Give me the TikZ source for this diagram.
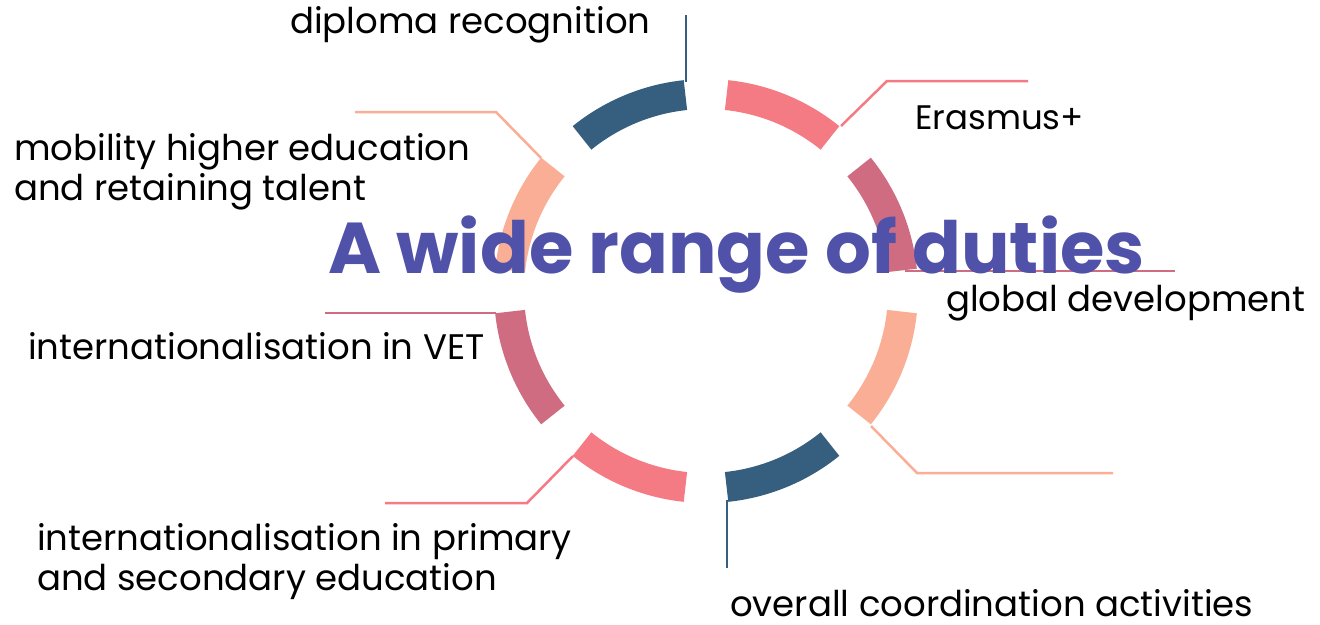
\documentclass[tikz,border=0pt]{standalone}
\usepackage{fontspec}
\setmainfont{Poppins}
\definecolor{ringblue}{HTML}{365E7E}
\definecolor{ringpink}{HTML}{F47A84}
\definecolor{ringmauve}{HTML}{CF6C81}
\definecolor{ringsalmon}{HTML}{F9AE95}
\definecolor{titleblue}{HTML}{4F52A8}
\tikzset{
  seg/.style={line width=30pt},
  lead/.style={line width=2.5pt, line join=miter},
  lbl/.style={anchor=base west, inner sep=0pt, align=left, font=\fontsize{35.5}{40}\selectfont},
}
\begin{document}
\begin{tikzpicture}[x=1pt, y=-1pt, line cap=butt]
	\useasboundingbox (0,0) rectangle (1320,624);
	%%%%%%%%%%%%%%%%%%%%%%%%%%%%%%%%%
	\coordinate (O) at (706,291);
	\coordinate (dipS) at (686,82);   \coordinate (dipE) at (686,15);
	\coordinate (eraS) at (841,126);  \coordinate (eraK) at (887,81);  \coordinate (eraE) at (1028,81);
	\coordinate (gloS) at (905,271);  \coordinate (gloE) at (1175,271);
	\coordinate (rsaS) at (871,426);  \coordinate (rsaK) at (917,473); \coordinate (rsaE) at (1113,473);
	\coordinate (ovrS) at (727,500);  \coordinate (ovrE) at (727,568);
	\coordinate (priS) at (573,456);  \coordinate (priK) at (527,503); \coordinate (priE) at (385,503);
	\coordinate (vetS) at (496,313);  \coordinate (vetE) at (325,313);
	\coordinate (mobS) at (541,158);  \coordinate (mobK) at (496,112); \coordinate (mobE) at (355,112);
	%%%%%%%%%%%%%%%%%%%%%%%%%%%%%%%%%
	\begin{scope}[shift={(O)}]
		\foreach \ang/\col in {112.5/ringblue, 67.5/ringpink, 22.5/ringmauve, -22.5/ringsalmon,
			-67.5/ringblue, -112.5/ringpink, -157.5/ringmauve, 157.5/ringsalmon}
			\draw[seg, \col] ({\ang-16.5}:197pt) arc[start angle=\ang-16.5, end angle=\ang+16.5, radius=197pt];
	\end{scope}
	\draw[lead, ringblue] (dipS) -- (dipE);
	\draw[lead, ringpink] (eraS) -- (eraK) -- (eraE);
	\draw[lead, ringmauve] (gloS) -- (gloE);
	\draw[lead, ringsalmon] (rsaS) -- (rsaK) -- (rsaE);
	\draw[lead, ringblue] (ovrS) -- (ovrE);
	\draw[lead, ringpink] (priS) -- (priK) -- (priE);
	\draw[lead, ringmauve] (vetS) -- (vetE);
	\draw[lead, ringsalmon] (mobS) -- (mobK) -- (mobE);
	%%%%%%%%%%%%%%%%%%%%%%%%%%%%%%%%%
	\node[anchor=base west, inner sep=0pt, text=titleblue, font=\fontsize{72}{76}\selectfont\bfseries] (title) at (328,273) {A wide range of duties};
	%%%%%%%%%%%%%%%%%%%%%%%%%%%%%%%%%
	\node[lbl] (dip) at (290,33) {diploma recognition};
	\node[lbl, font=\fontsize{34}{40}\selectfont] (era) at (915,129) {Erasmus+};
	\node[lbl] (mob) at (14,200) {mobility higher education\\and retaining talent};
	\node[lbl] (glo) at (946,311) {global development};
	\node[lbl] (vet) at (28,359) {internationalisation in VET};
	\node[lbl] (pri) at (37,590) {internationalisation in primary\\and secondary education};
	\node[lbl] (ovr) at (730,616) {overall coordination activities};
	%%%%%%%%%%%%%%%%%%%%%%%%%%%%%%%%%
\end{tikzpicture}
\end{document}
